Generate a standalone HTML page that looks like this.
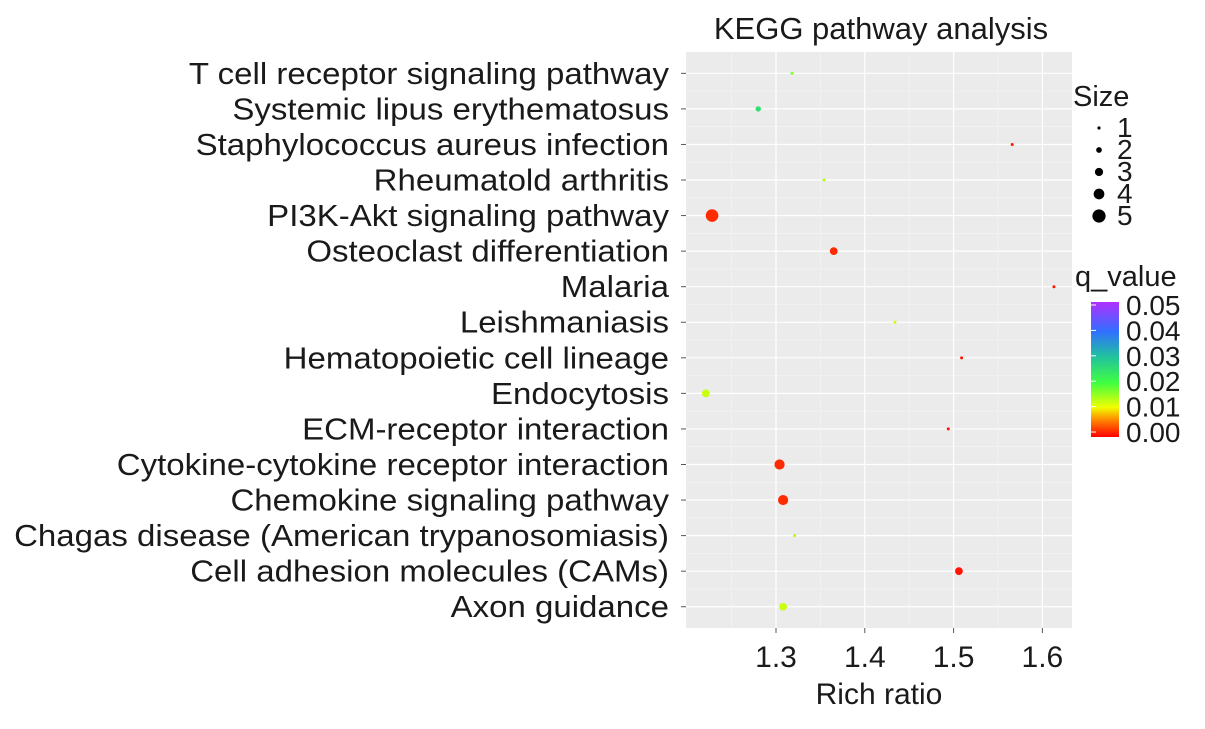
<!DOCTYPE html>
<html><head><meta charset="utf-8"><style>
body{margin:0;background:#fff;}
svg text{font-family:"Liberation Sans",Arial,sans-serif;}
</style></head><body>
<svg id="chart" width="1205" height="724" xmlns="http://www.w3.org/2000/svg">
<defs>
<linearGradient id="qgrad" x1="0" y1="1" x2="0" y2="0">
<stop offset="0" stop-color="#ff0000"/>
<stop offset="0.12" stop-color="#ff8000"/>
<stop offset="0.22" stop-color="#f0ff00"/>
<stop offset="0.4" stop-color="#40ff40"/>
<stop offset="0.6" stop-color="#20c0a0"/>
<stop offset="0.78" stop-color="#3070ff"/>
<stop offset="1" stop-color="#b030ff"/>
</linearGradient>
</defs>
<text x="881" y="39" font-size="31" text-anchor="middle" fill="#1a1a1a">KEGG pathway analysis</text>
<rect x="686" y="52" width="386" height="576" fill="#ebebeb"/>
<g id="grid"></g>
<g id="ylabels" transform="translate(669,0) scale(1.065,1) translate(-669,0)"></g>
<g id="xlabels"></g><g id="points"></g>
<text x="879" y="704" font-size="30" text-anchor="middle" fill="#1a1a1a">Rich ratio</text>
<text x="1073" y="106" font-size="29" fill="#1a1a1a">Size</text>
<g id="sizelegend"></g>
<text x="1075" y="286" font-size="29" fill="#1a1a1a">q_value</text>
<rect x="1091" y="302" width="28" height="135" fill="url(#qgrad)"/>
<g id="colorlabels"></g>
</svg>
<script>
const categories=["T cell receptor signaling pathway","Systemic lipus erythematosus","Staphylococcus aureus infection","Rheumatold arthritis","PI3K-Akt signaling pathway","Osteoclast differentiation","Malaria","Leishmaniasis","Hematopoietic cell lineage","Endocytosis","ECM-receptor interaction","Cytokine-cytokine receptor interaction","Chemokine signaling pathway","Chagas disease (American trypanosomiasis)","Cell adhesion molecules (CAMs)","Axon guidance"];
const richRatio=[1.318,1.280,1.566,1.354,1.228,1.365,1.613,1.434,1.509,1.221,1.494,1.304,1.308,1.321,1.506,1.308];
const qValue=[0.017,0.025,0.001,0.014,0.002,0.002,0.001,0.013,0.001,0.013,0.001,0.002,0.002,0.014,0.001,0.013];
const geneSize=[1,2,1,1,5,3,1,1,1,3,1,4,4,1,3,3];
const xTicks=[1.3,1.4,1.5,1.6];
const sizeLevels=[1,2,3,4,5];
const qTicks=[0,0.01,0.02,0.03,0.04,0.05];
const NS="http://www.w3.org/2000/svg";
const X=v=>776+(v-1.3)*888;
const Y=i=>52+(0.6+i)*35.56;
const R=s=>0.3+s*1.2;
const stops=[[0,[255,0,0]],[0.12,[255,128,0]],[0.22,[240,255,0]],[0.4,[64,255,64]],[0.6,[32,192,160]],[0.78,[48,112,255]],[1,[176,48,255]]];
function col(q){let t=Math.max(0,Math.min(1,q/0.05));for(let k=1;k<stops.length;k++){if(t<=stops[k][0]){const a=stops[k-1],b=stops[k];const f=(t-a[0])/(b[0]-a[0]);return"rgb("+a[1].map((c,j)=>Math.round(c+(b[1][j]-c)*f)).join(",")+")";}}return"rgb(176,48,255)";}
function mk(tag,attrs,parent){const e=document.createElementNS(NS,tag);for(const k in attrs)e.setAttribute(k,attrs[k]);document.getElementById(parent).appendChild(e);return e;}
for(let i=0;i<categories.length;i++){
 const g=mk("line",{x1:686,x2:1072,y1:Y(i),y2:Y(i),stroke:"#fff","stroke-width":1.2},"grid");
 
 
 if(i<categories.length-1){const m=mk("line",{x1:686,x2:1072,y1:Y(i+0.5),y2:Y(i+0.5),stroke:"#f5f5f5","stroke-width":0.6},"grid");
 
 }
 const tk=mk("line",{x1:681,x2:686,y1:Y(i),y2:Y(i),stroke:"#555","stroke-width":1},"grid");
 
 
 const t=mk("text",{x:669,y:Y(i)+10.5,"font-size":31,"text-anchor":"end",fill:"#1a1a1a"},"ylabels");
 t.textContent=categories[i];
 
 
}
const minors=[1.25].concat(xTicks.map(v=>v+0.05));
minors.forEach(v=>{if(X(v)>686&&X(v)<1072){const m=mk("line",{x1:X(v),x2:X(v),y1:52,y2:628,stroke:"#f5f5f5","stroke-width":0.6},"grid");
 
 }});
xTicks.forEach(v=>{
 const g=mk("line",{x1:X(v),x2:X(v),y1:52,y2:628,stroke:"#fff","stroke-width":1.2},"grid");
 
 
 const tk=mk("line",{x1:X(v),x2:X(v),y1:628,y2:633,stroke:"#555","stroke-width":1},"grid");
 
 
 const t=mk("text",{x:X(v),y:667,"font-size":30,"text-anchor":"middle",fill:"#1a1a1a"},"xlabels");
 t.textContent=v.toFixed(1);
 
 
});
for(let i=0;i<categories.length;i++){
 const c=mk("circle",{cx:X(richRatio[i]),cy:Y(i),r:R(geneSize[i]),fill:col(qValue[i])},"points");
 
 
}
sizeLevels.forEach((s,k)=>{
 const y=128+k*22;
 const c=mk("circle",{cx:1099,cy:y,r:R(s)*1.05,fill:"#000"},"sizelegend");
 
 
 const t=mk("text",{x:1117,y:y+9,"font-size":28,fill:"#1a1a1a"},"sizelegend");
 t.textContent=s;
 
 
});
qTicks.forEach(q=>{
 const y=432-(q/0.05)*127;
 const t=mk("text",{x:1126,y:y+10,"font-size":28,fill:"#1a1a1a"},"colorlabels");
 t.textContent=q.toFixed(2);
 
 
 const l=mk("line",{x1:1091,x2:1096,y1:y,y2:y,stroke:"#fff","stroke-width":1},"colorlabels");
 
 
});
</script>
</body></html>
